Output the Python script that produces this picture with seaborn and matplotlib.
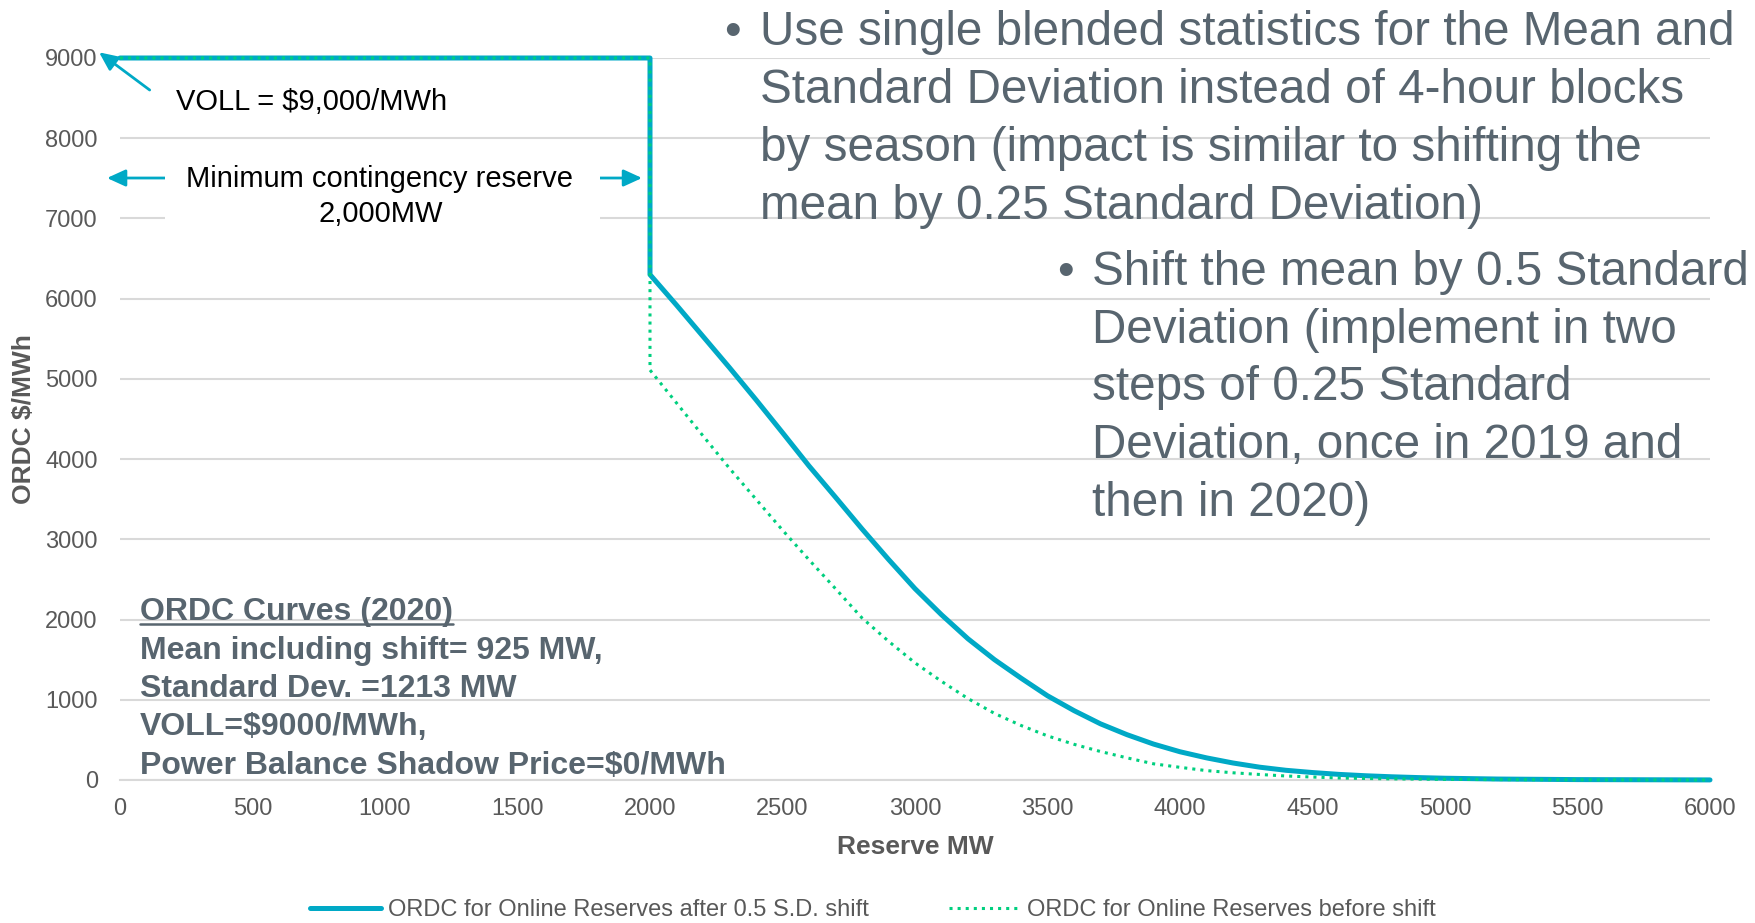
import pandas as pd
import seaborn as sns
import matplotlib.pyplot as plt
from matplotlib.patches import Rectangle
from matplotlib.lines import Line2D

# ORDC curve values (reserve MW -> $/MWh)
reserve = [0, 2000, 2000, 2100, 2200, 2300, 2400, 2500, 2600, 2700, 2800, 2900,
           3000, 3100, 3200, 3300, 3400, 3500, 3600, 3700, 3800, 3900, 4000,
           4100, 4200, 4300, 4400, 4500, 4600, 4700, 4800, 4900, 5000, 5200,
           5500, 6000]
price_after = [9000, 9000, 6300, 5920, 5530, 5140, 4740, 4330, 3915, 3525, 3130,
               2750, 2385, 2060, 1760, 1500, 1270, 1050, 865, 700, 565, 448, 352,
               276, 212, 160, 121, 93, 70, 53, 40, 30, 22, 12, 5, 1]
price_before = [9000, 9000, 5110, 4700, 4290, 3885, 3500, 3115, 2745, 2385, 2020,
                1730, 1460, 1230, 1015, 830, 680, 550, 445, 355, 276, 202, 158,
                117, 90, 69, 50, 37, 25, 19, 14, 11, 8, 5, 2, 0]

x_ticks = list(range(0, 6001, 500))
y_ticks = list(range(0, 9001, 1000))

label_after = "ORDC for Online Reserves after 0.5 S.D. shift"
label_before = "ORDC for Online Reserves before shift"

bullet1 = ["Use single blended statistics for the Mean and",
           "Standard Deviation instead of 4-hour blocks",
           "by season (impact is similar to shifting the",
           "mean by 0.25 Standard Deviation)"]
bullet2 = ["Shift the mean by 0.5 Standard",
           "Deviation (implement in two",
           "steps of 0.25 Standard",
           "Deviation, once in 2019 and",
           "then in 2020)"]
box_lines = ["ORDC Curves (2020)",
             "Mean including shift= 925 MW,",
             "Standard Dev. =1213 MW",
             "VOLL=$9000/MWh,",
             "Power Balance Shadow Price=$0/MWh"]

df = pd.DataFrame({"reserve": reserve, "after": price_after, "before": price_before})

teal = "#00A9C6"
green = "#00CF7F"
grey = "#595959"
slate = "#58656F"
gridc = "#D9D9D9"

sns.set_theme(style="whitegrid")
plt.rcParams["font.family"] = ["Liberation Sans", "DejaVu Sans"]

W, H = 1756, 923
fig = plt.figure(figsize=(W / 100, H / 100), dpi=100)
ax = fig.add_axes([120 / W, 1 - 780 / H, 1590 / W, 722 / H])


def fx(px):
    return px / W


def fy(py):
    return 1 - py / H


sns.lineplot(data=df, x="reserve", y="after", ax=ax, color=teal, lw=3.6,
             estimator=None, sort=False, label=label_after, clip_on=False, zorder=3)
sns.lineplot(data=df, x="reserve", y="before", ax=ax, color=green, lw=2.2,
             ls=":", estimator=None, sort=False, label=label_before, clip_on=False, zorder=4)

ax.set_xlim(0, 6000)
ax.set_ylim(0, 9000)
ax.set_xticks(x_ticks)
ax.set_yticks(y_ticks)
ax.grid(axis="y", color=gridc, lw=1.5)
ax.grid(axis="x", visible=False)
for s in ["left", "top", "right"]:
    ax.spines[s].set_visible(False)
ax.spines["bottom"].set_color(gridc)
ax.spines["bottom"].set_linewidth(1.5)
ax.tick_params(axis="y", length=0, pad=16, labelsize=17, labelcolor=grey)
ax.tick_params(axis="x", length=0, pad=13, labelsize=17, labelcolor=grey)
ax.set_xlabel("Reserve MW", fontsize=19, fontweight="bold", color=grey, labelpad=11)
ax.set_ylabel("ORDC $/MWh", fontsize=19, fontweight="bold", color=grey)
ax.yaxis.set_label_coords(-0.053, 0.5)

# legend at the bottom
handles, labels = ax.get_legend_handles_labels()
ax.get_legend().remove()
fig.legend(handles, labels, loc="center", bbox_to_anchor=(0.497, 1 - 910 / H),
           ncol=2, frameon=False, fontsize=17, labelcolor=grey,
           handlelength=3.0, handletextpad=0.3, columnspacing=3.4,
           borderpad=0.2)

# annotations
arrow_kw = dict(arrowstyle="-|>,head_length=0.7,head_width=0.32", color=teal,
                lw=2, mutation_scale=16, shrinkA=0, shrinkB=0)
ax.annotate("", xy=(-79, 9071), xytext=(112, 8601), arrowprops=arrow_kw,
            annotation_clip=False)
fig.text(fx(176), fy(110), "VOLL = $9,000/MWh", fontsize=21, color="black",
         va="baseline", ha="left")

fig.patches.append(Rectangle((fx(165), fy(234)), fx(600) - fx(165), fy(146) - fy(234),
                             transform=fig.transFigure, facecolor="white",
                             edgecolor="none", zorder=1))
fig.text(fx(380), fy(187), "Minimum contingency reserve", fontsize=21,
         color="black", va="baseline", ha="center")
fig.text(fx(381), fy(222), "2,000MW", fontsize=21, color="black",
         va="baseline", ha="center")
ax.annotate("", xy=(-49, 7504), xytext=(174, 7504), arrowprops=arrow_kw,
            annotation_clip=False)
ax.annotate("", xy=(1970, 7504), xytext=(1812, 7504), arrowprops=arrow_kw,
            annotation_clip=False)

# bullet notes
fig.text(fx(732), fy(45), "\u2022", fontsize=34.3, color=slate, ha="center", va="baseline")
for i, line in enumerate(bullet1):
    fig.text(fx(760), fy(45 + 58 * i), line, fontsize=34.3, color=slate,
             ha="left", va="baseline")
fig.text(fx(1065), fy(285), "\u2022", fontsize=34.3, color=slate, ha="center", va="baseline")
for i, line in enumerate(bullet2):
    fig.text(fx(1092), fy(285 + 57.7 * i), line, fontsize=34.3, color=slate,
             ha="left", va="baseline")

# bold summary box
box_texts = []
for i, line in enumerate(box_lines):
    t = fig.text(fx(140), fy(620 + 38.5 * i), line, fontsize=23, fontweight="bold",
                 color=slate, ha="left", va="baseline")
    box_texts.append(t)

fig.canvas.draw()
bb = box_texts[0].get_window_extent()
uy = fy(624)
fig.lines.append(Line2D([bb.x0 / W, bb.x1 / W], [uy, uy], transform=fig.transFigure,
                        color=slate, lw=1.8))

fig.savefig("out.png", dpi=100)
